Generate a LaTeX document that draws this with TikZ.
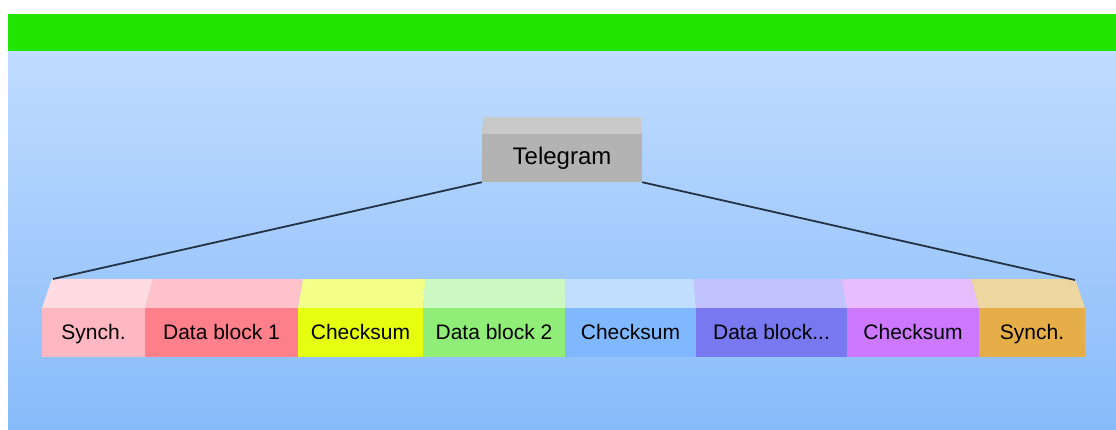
\documentclass[tikz,border=0pt]{standalone}
\usepackage{fontspec}
\setmainfont{Liberation Sans}
\usetikzlibrary{positioning}

\definecolor{barGreen}{HTML}{22E600}
\definecolor{panelTop}{HTML}{C0DCFF}
\definecolor{panelBottom}{HTML}{88BBFA}
\definecolor{boxFront}{HTML}{B3B3B3}
\definecolor{boxTop}{HTML}{C9C9C9}
\definecolor{linkColor}{HTML}{243246}
% front / top colours of the fields
\definecolor{synchAF}{HTML}{FFB8C2}
\definecolor{synchAT}{HTML}{FFDCE2}
\definecolor{dataAF}{HTML}{FF808A}
\definecolor{dataAT}{HTML}{FFC2CA}
\definecolor{checkAF}{HTML}{E6FF10}
\definecolor{checkAT}{HTML}{F2FF88}
\definecolor{dataBF}{HTML}{90EE78}
\definecolor{dataBT}{HTML}{CCF8C2}
\definecolor{checkBF}{HTML}{80B8FF}
\definecolor{checkBT}{HTML}{C2DEFF}
\definecolor{dataCF}{HTML}{7878F0}
\definecolor{dataCT}{HTML}{C2C2FF}
\definecolor{checkCF}{HTML}{CC78FF}
\definecolor{checkCT}{HTML}{E8BDFF}
\definecolor{synchBF}{HTML}{E6AE48}
\definecolor{synchBT}{HTML}{EED6A0}

\newcommand{\moreData}{Data block...}

\begin{document}
\begin{tikzpicture}
	[
		x = 1pt, y = -1pt,
		field/.style = {inner sep = 0pt, minimum height = 49pt, text height = 16pt, text depth = 2pt, font = \fontsize{21}{24}\selectfont},
		header/.style = {inner sep = 0pt, minimum width = 160pt, minimum height = 48pt, fill = boxFront, font = \fontsize{24}{28}\selectfont},
		link/.style = {draw = linkColor, line width = 1.8pt}
	]
	\useasboundingbox (0,0) rectangle (1116,429);
	% background
	\fill[top color = panelTop, bottom color = panelBottom] (8,51) rectangle (1116,429);
	\fill[barGreen] (8,14) rectangle (1116,51);
	% telegram box
	\fill[boxTop] (483,117) -- (641,117) -- (642,134) -- (482,134) -- cycle;
	\node[header] (telegram) at (562,158) {Telegram};
	% fields of the telegram
	\foreach \name/\l/\r/\txt in
		{
			synchA/42/145/Synch.,
			dataA/145/298/Data block 1,
			checkA/298/423/Checksum,
			dataB/423/565/Data block 2,
			checkB/565/696/Checksum,
			dataC/696/847/\moreData,
			checkC/847/979/Checksum,
			synchB/979/1085/Synch.
		}
	{
		\fill[\name T] (\l,308) -- (\r,308) -- ({563.5+0.981*(\r-563.5)},279) -- ({563.5+0.981*(\l-563.5)},279) -- cycle;
		\node[field, fill = \name F, minimum width = {(\r-\l)*1pt}] (\name) at ({(\l+\r)/2},332.5) {\txt};
	}
	\coordinate (rowL) at (53,279);
	\coordinate (rowR) at (1075,280);
	\draw[link] (telegram.south west) -- (rowL);
	\draw[link] (telegram.south east) -- (rowR);
\end{tikzpicture}
\end{document}
